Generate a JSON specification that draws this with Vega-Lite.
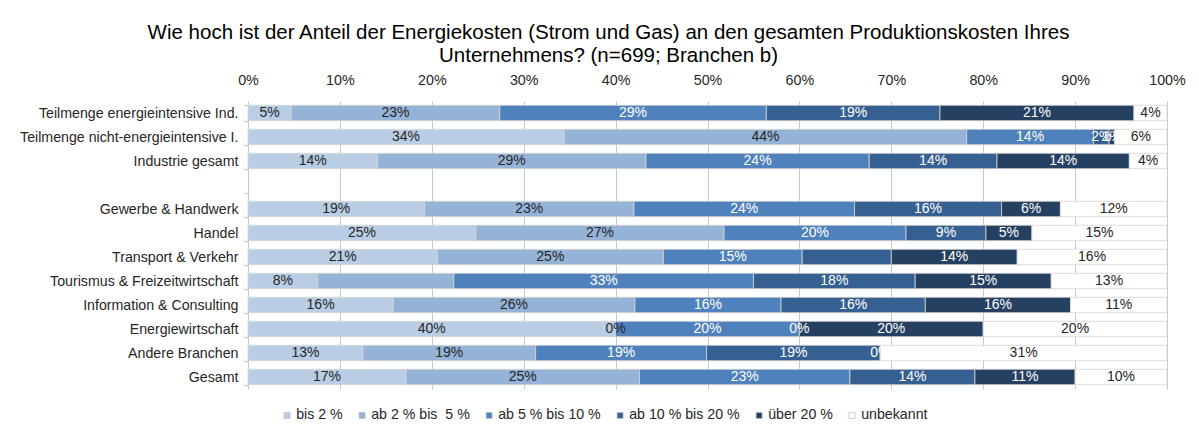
{
  "$schema": "https://vega.github.io/schema/vega-lite/v6.json",
  "width": 919,
  "height": 288,
  "autosize": {"type": "none"},
  "padding": {"left": 248, "top": 101, "right": 32, "bottom": 38},
  "background": "white",
  "config": {
    "font": "Liberation Sans",
    "view": {"stroke": null}
  },
  "title": {
    "text": ["Wie hoch ist der Anteil der Energiekosten (Strom und Gas) an den gesamten Produktionskosten Ihres", "Unternehmens? (n=699; Branchen b)"],
    "anchor": "middle",
    "frame": "group",
    "dx": -99,
    "fontSize": 20.5,
    "fontWeight": "normal",
    "color": "#000000",
    "lineHeight": 23,
    "offset": 7
  },
  "data": {
    "values": [
      {"cat": "Teilmenge energieintensive Ind.", "kat": "bis 2 %", "o": 1, "v": 4.7, "label": "5%"},
      {"cat": "Teilmenge energieintensive Ind.", "kat": "ab 2 % bis \u00a05 %", "o": 2, "v": 22.7, "label": "23%"},
      {"cat": "Teilmenge energieintensive Ind.", "kat": "ab 5 % bis 10 %", "o": 3, "v": 29.0, "label": "29%"},
      {"cat": "Teilmenge energieintensive Ind.", "kat": "ab 10 % bis 20 %", "o": 4, "v": 18.9, "label": "19%"},
      {"cat": "Teilmenge energieintensive Ind.", "kat": "über 20 %", "o": 5, "v": 21.1, "label": "21%"},
      {"cat": "Teilmenge energieintensive Ind.", "kat": "unbekannt", "o": 6, "v": 3.6, "label": "4%"},
      {"cat": "Teilmenge nicht-energieintensive I.", "kat": "bis 2 %", "o": 1, "v": 34.4, "label": "34%"},
      {"cat": "Teilmenge nicht-energieintensive I.", "kat": "ab 2 % bis \u00a05 %", "o": 2, "v": 43.8, "label": "44%"},
      {"cat": "Teilmenge nicht-energieintensive I.", "kat": "ab 5 % bis 10 %", "o": 3, "v": 13.8, "label": "14%"},
      {"cat": "Teilmenge nicht-energieintensive I.", "kat": "ab 10 % bis 20 %", "o": 4, "v": 1.7, "label": "2%"},
      {"cat": "Teilmenge nicht-energieintensive I.", "kat": "über 20 %", "o": 5, "v": 0.6, "label": "1%"},
      {"cat": "Teilmenge nicht-energieintensive I.", "kat": "unbekannt", "o": 6, "v": 5.7, "label": "6%"},
      {"cat": "Industrie gesamt", "kat": "bis 2 %", "o": 1, "v": 14.1, "label": "14%"},
      {"cat": "Industrie gesamt", "kat": "ab 2 % bis \u00a05 %", "o": 2, "v": 29.2, "label": "29%"},
      {"cat": "Industrie gesamt", "kat": "ab 5 % bis 10 %", "o": 3, "v": 24.3, "label": "24%"},
      {"cat": "Industrie gesamt", "kat": "ab 10 % bis 20 %", "o": 4, "v": 13.9, "label": "14%"},
      {"cat": "Industrie gesamt", "kat": "über 20 %", "o": 5, "v": 14.4, "label": "14%"},
      {"cat": "Industrie gesamt", "kat": "unbekannt", "o": 6, "v": 4.1, "label": "4%"},
      {"cat": "Gewerbe & Handwerk", "kat": "bis 2 %", "o": 1, "v": 19.2, "label": "19%"},
      {"cat": "Gewerbe & Handwerk", "kat": "ab 2 % bis \u00a05 %", "o": 2, "v": 22.8, "label": "23%"},
      {"cat": "Gewerbe & Handwerk", "kat": "ab 5 % bis 10 %", "o": 3, "v": 24.0, "label": "24%"},
      {"cat": "Gewerbe & Handwerk", "kat": "ab 10 % bis 20 %", "o": 4, "v": 16.0, "label": "16%"},
      {"cat": "Gewerbe & Handwerk", "kat": "über 20 %", "o": 5, "v": 6.4, "label": "6%"},
      {"cat": "Gewerbe & Handwerk", "kat": "unbekannt", "o": 6, "v": 11.6, "label": "12%"},
      {"cat": "Handel", "kat": "bis 2 %", "o": 1, "v": 24.8, "label": "25%"},
      {"cat": "Handel", "kat": "ab 2 % bis \u00a05 %", "o": 2, "v": 27.0, "label": "27%"},
      {"cat": "Handel", "kat": "ab 5 % bis 10 %", "o": 3, "v": 19.8, "label": "20%"},
      {"cat": "Handel", "kat": "ab 10 % bis 20 %", "o": 4, "v": 8.7, "label": "9%"},
      {"cat": "Handel", "kat": "über 20 %", "o": 5, "v": 5.0, "label": "5%"},
      {"cat": "Handel", "kat": "unbekannt", "o": 6, "v": 14.7, "label": "15%"},
      {"cat": "Transport & Verkehr", "kat": "bis 2 %", "o": 1, "v": 20.6, "label": "21%"},
      {"cat": "Transport & Verkehr", "kat": "ab 2 % bis \u00a05 %", "o": 2, "v": 24.6, "label": "25%"},
      {"cat": "Transport & Verkehr", "kat": "ab 5 % bis 10 %", "o": 3, "v": 15.1, "label": "15%"},
      {"cat": "Transport & Verkehr", "kat": "ab 10 % bis 20 %", "o": 4, "v": 9.7, "label": ""},
      {"cat": "Transport & Verkehr", "kat": "über 20 %", "o": 5, "v": 13.7, "label": "14%"},
      {"cat": "Transport & Verkehr", "kat": "unbekannt", "o": 6, "v": 16.3, "label": "16%"},
      {"cat": "Tourismus & Freizeitwirtschaft", "kat": "bis 2 %", "o": 1, "v": 7.6, "label": "8%"},
      {"cat": "Tourismus & Freizeitwirtschaft", "kat": "ab 2 % bis \u00a05 %", "o": 2, "v": 14.8, "label": ""},
      {"cat": "Tourismus & Freizeitwirtschaft", "kat": "ab 5 % bis 10 %", "o": 3, "v": 32.6, "label": "33%"},
      {"cat": "Tourismus & Freizeitwirtschaft", "kat": "ab 10 % bis 20 %", "o": 4, "v": 17.6, "label": "18%"},
      {"cat": "Tourismus & Freizeitwirtschaft", "kat": "über 20 %", "o": 5, "v": 14.8, "label": "15%"},
      {"cat": "Tourismus & Freizeitwirtschaft", "kat": "unbekannt", "o": 6, "v": 12.6, "label": "13%"},
      {"cat": "Information & Consulting", "kat": "bis 2 %", "o": 1, "v": 15.8, "label": "16%"},
      {"cat": "Information & Consulting", "kat": "ab 2 % bis \u00a05 %", "o": 2, "v": 26.3, "label": "26%"},
      {"cat": "Information & Consulting", "kat": "ab 5 % bis 10 %", "o": 3, "v": 15.9, "label": "16%"},
      {"cat": "Information & Consulting", "kat": "ab 10 % bis 20 %", "o": 4, "v": 15.7, "label": "16%"},
      {"cat": "Information & Consulting", "kat": "über 20 %", "o": 5, "v": 15.8, "label": "16%"},
      {"cat": "Information & Consulting", "kat": "unbekannt", "o": 6, "v": 10.5, "label": "11%"},
      {"cat": "Energiewirtschaft", "kat": "bis 2 %", "o": 1, "v": 40.0, "label": "40%"},
      {"cat": "Energiewirtschaft", "kat": "ab 2 % bis \u00a05 %", "o": 2, "v": 0.0, "label": "0%"},
      {"cat": "Energiewirtschaft", "kat": "ab 5 % bis 10 %", "o": 3, "v": 20.0, "label": "20%"},
      {"cat": "Energiewirtschaft", "kat": "ab 10 % bis 20 %", "o": 4, "v": 0.0, "label": "0%"},
      {"cat": "Energiewirtschaft", "kat": "über 20 %", "o": 5, "v": 20.0, "label": "20%"},
      {"cat": "Energiewirtschaft", "kat": "unbekannt", "o": 6, "v": 20.0, "label": "20%"},
      {"cat": "Andere Branchen", "kat": "bis 2 %", "o": 1, "v": 12.5, "label": "13%"},
      {"cat": "Andere Branchen", "kat": "ab 2 % bis \u00a05 %", "o": 2, "v": 18.8, "label": "19%"},
      {"cat": "Andere Branchen", "kat": "ab 5 % bis 10 %", "o": 3, "v": 18.6, "label": "19%"},
      {"cat": "Andere Branchen", "kat": "ab 10 % bis 20 %", "o": 4, "v": 18.9, "label": "19%"},
      {"cat": "Andere Branchen", "kat": "über 20 %", "o": 5, "v": 0.0, "label": "0%"},
      {"cat": "Andere Branchen", "kat": "unbekannt", "o": 6, "v": 31.2, "label": "31%"},
      {"cat": "Gesamt", "kat": "bis 2 %", "o": 1, "v": 17.2, "label": "17%"},
      {"cat": "Gesamt", "kat": "ab 2 % bis \u00a05 %", "o": 2, "v": 25.4, "label": "25%"},
      {"cat": "Gesamt", "kat": "ab 5 % bis 10 %", "o": 3, "v": 22.9, "label": "23%"},
      {"cat": "Gesamt", "kat": "ab 10 % bis 20 %", "o": 4, "v": 13.6, "label": "14%"},
      {"cat": "Gesamt", "kat": "über 20 %", "o": 5, "v": 10.9, "label": "11%"},
      {"cat": "Gesamt", "kat": "unbekannt", "o": 6, "v": 10.0, "label": "10%"}
    ]
  },
  "transform": [
    {"stack": "v", "groupby": ["cat"], "sort": [{"field": "o", "order": "ascending"}], "as": ["v0", "v1"]},
    {"calculate": "(datum.v0 + datum.v1) / 2", "as": "mid"}
  ],
  "encoding": {
    "y": {
      "field": "cat",
      "type": "nominal",
      "scale": {
        "domain": ["Teilmenge energieintensive Ind.", "Teilmenge nicht-energieintensive I.", "Industrie gesamt", " ", "Gewerbe & Handwerk", "Handel", "Transport & Verkehr", "Tourismus & Freizeitwirtschaft", "Information & Consulting", "Energiewirtschaft", "Andere Branchen", "Gesamt"],
        "paddingInner": 0.36,
        "paddingOuter": 0.18
      },
      "axis": {
        "title": null,
        "domain": false,
        "grid": false,
        "ticks": true,
        "tickBand": "extent",
        "tickSize": 4,
        "tickColor": "#BFBFBF",
        "labelFontSize": 14.2,
        "labelColor": "#262626",
        "labelPadding": 6,
        "labelLimit": 0
      }
    }
  },
  "layer": [
    {
      "mark": {"type": "bar", "stroke": "#D6D6D6", "strokeWidth": 0.8},
      "encoding": {
        "x": {
          "field": "v0",
          "type": "quantitative",
          "scale": {"domain": [0, 100], "nice": false},
          "axis": {
            "orient": "top",
            "title": null,
            "values": [0, 10, 20, 30, 40, 50, 60, 70, 80, 90, 100],
            "labelExpr": "datum.value + '%'",
            "labelFlush": false,
            "labelOverlap": false,
            "grid": true,
            "gridColor": "#C8C8C8",
            "gridWidth": 1,
            "domain": false,
            "ticks": false,
            "labelFontSize": 14.3,
            "labelColor": "#262626",
            "labelPadding": 14
          }
        },
        "x2": {"field": "v1"},
        "color": {
          "field": "kat",
          "type": "nominal",
          "scale": {
            "domain": ["bis 2 %", "ab 2 % bis \u00a05 %", "ab 5 % bis 10 %", "ab 10 % bis 20 %", "über 20 %", "unbekannt"],
            "range": ["#B9CDE5", "#95B3D7", "#4F81BD", "#376092", "#254061", "#FFFFFF"]
          },
          "legend": {
            "title": null,
            "orient": "none",
            "direction": "horizontal",
            "legendX": 32,
            "legendY": 307,
            "symbolType": "square",
            "symbolSize": 36,
            "symbolStrokeColor": "#BFBFBF",
            "symbolStrokeWidth": 0.8,
            "labelFontSize": 14.2,
            "labelColor": "#262626",
            "labelOffset": 2,
            "columnPadding": 12
          }
        }
      }
    },
    {
      "mark": {"type": "text", "fontSize": 14, "align": "center", "baseline": "middle"},
      "encoding": {
        "x": {"field": "mid", "type": "quantitative"},
        "text": {"field": "label"},
        "color": {
          "condition": {"test": "datum.o == 1 || datum.o == 2 || datum.o == 6", "value": "#262626"},
          "value": "#FFFFFF"
        }
      }
    }
  ]
}
